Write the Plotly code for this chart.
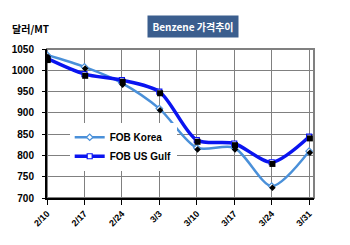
import plotly.graph_objects as go

dates = ["2/10", "2/17", "2/24", "3/3", "3/10", "3/17", "3/24", "3/31"]
fob_korea = [1036, 1008, 970, 910, 818, 818, 728, 810]
fob_usgulf = [1028, 991, 977, 950, 836, 828, 784, 844]

xs = list(range(len(dates)))
font_fam = "Liberation Sans, Arial, sans-serif"
korea_c = "#4a90d9"
gulf_c = "#0a14f0"

fig = go.Figure()
# shadow markers (drawn on an offset overlay axis)
fig.add_trace(go.Scatter(
    x=xs, y=fob_korea, mode="markers", showlegend=False, hoverinfo="skip",
    marker=dict(symbol="diamond", size=5, color="black"),
    xaxis="x2", yaxis="y2",
))
fig.add_trace(go.Scatter(
    x=xs, y=fob_usgulf, mode="markers", showlegend=False, hoverinfo="skip",
    marker=dict(symbol="square", size=6, color="black"),
    xaxis="x2", yaxis="y2",
))
fig.add_trace(go.Scatter(
    x=xs, y=fob_korea, name="FOB Korea", mode="lines+markers",
    line=dict(color=korea_c, width=2.5, shape="spline", smoothing=0.8),
    marker=dict(symbol="diamond", size=5, color="white", line=dict(color=korea_c, width=1.2)),
))
fig.add_trace(go.Scatter(
    x=xs, y=fob_usgulf, name="FOB US Gulf", mode="lines+markers",
    line=dict(color=gulf_c, width=3.5, shape="spline", smoothing=0.8),
    marker=dict(symbol="square", size=5, color="white", line=dict(color=gulf_c, width=1.2)),
))

fig.update_layout(
    width=350, height=245,
    margin=dict(l=45, r=36, t=49, b=47),
    paper_bgcolor="white", plot_bgcolor="white",
    showlegend=True,
    legend=dict(x=0.085, y=0.505, xanchor="left", yanchor="top",
                bgcolor="white", borderwidth=0,
                font=dict(family=font_fam, size=10, color="black", weight="bold"),
                itemwidth=30, tracegroupgap=0),
    font=dict(family=font_fam, size=9, color="black"),
    xaxis2=dict(overlaying="x", range=[-0.02, 7.11], visible=False),
    yaxis2=dict(overlaying="y", range=[704, 1054], visible=False),
    xaxis=dict(
        tickvals=xs, ticktext=dates, range=[0, 7.13],
        tickangle=-45, tickfont=dict(size=9, weight="bold", family=font_fam),
        showgrid=True, gridcolor="#808080", gridwidth=1,
        showline=True, linecolor="black", linewidth=2,
        ticks="outside", ticklen=5, tickcolor="black", zeroline=False,
    ),
    yaxis=dict(
        range=[700, 1050], dtick=50,
        tickfont=dict(size=10, weight="bold", family=font_fam),
        showgrid=True, gridcolor="#808080", gridwidth=1,
        showline=True, linecolor="black", linewidth=2,
        ticks="outside", ticklen=3, tickcolor="black", zeroline=False,
        ticklabelstandoff=6,
    ),
)
# plot border
fig.add_shape(type="rect", xref="paper", yref="paper", x0=0, y0=0, x1=1, y1=1,
              line=dict(color="#808080", width=2), layer="below")

fig.add_annotation(
    text="Benzene 가격추이", xref="paper", yref="paper", x=0.545, y=1.15,
    xanchor="center", yanchor="middle", showarrow=False,
    font=dict(family="Noto Sans CJK KR, sans-serif", size=10, color="white", weight="bold"),
    bgcolor="#3b5e8e", borderpad=3, width=84,
)
fig.add_annotation(
    text="달러/MT", xref="paper", yref="paper", x=-0.14, y=1.14,
    xanchor="left", yanchor="middle", showarrow=False,
    font=dict(family="Noto Sans CJK KR, sans-serif", size=10, color="black", weight="bold"),
)

fig.write_html("out.html")
